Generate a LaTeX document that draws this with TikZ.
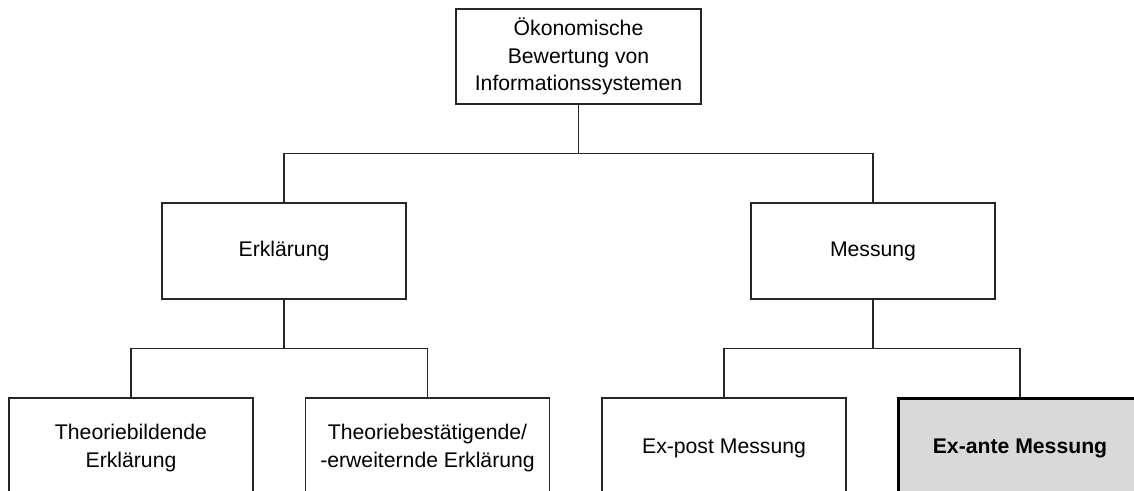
\documentclass[tikz,border=0pt]{standalone}
\usepackage{fontspec}
\setmainfont{Liberation Sans}
\usetikzlibrary{calc}
\begin{document}
\begin{tikzpicture}[x=1pt,y=-1pt,
  box/.style={draw=black!85, line width=1.3pt, fill=white, rectangle, align=center,
    inner sep=0pt, font=\fontsize{21.2}{27.5}\selectfont},
  keybox/.style={box, fill=black!15, draw=black, line width=3pt, font=\fontsize{21.2}{27.5}\selectfont\bfseries},
  link/.style={draw=black!85, line width=1.3pt}]
\useasboundingbox (0,0) rectangle (1134,490);
\clip (0,0) rectangle (1134,490);
% root
\node[box, minimum width=245, minimum height=95] (root) at (578.5,56.5)
  {Ökonomische\\Bewertung von\\Informationssystemen};
% second level
\node[box, minimum width=244, minimum height=96] (erk) at (284,251) {Erklärung};
\node[box, minimum width=244, minimum height=96] (mes) at (873,251) {Messung};
% third level
\node[box, minimum width=244, minimum height=100] (tb) at (131,448) {Theoriebildende\\Erklärung};
\node[box, minimum width=244, minimum height=100] (tbe) at (427.5,448) {Theoriebestätigende/\\-erweiternde Erklärung};
\node[box, minimum width=244, minimum height=100] (post) at (724,448) {Ex-post Messung};
\node[keybox, minimum width=244, minimum height=100] (ante) at (1020,448) {Ex-ante Messung};
% connectors
\coordinate (j0) at ($(root.south)+(0,49)$);
\coordinate (j1) at ($(erk.south)+(0,49)$);
\coordinate (j2) at ($(mes.south)+(0,49)$);
\draw[link] (root.south) -- (j0) -| (erk.north);
\draw[link] (j0) -| (mes.north);
\draw[link] (erk.south) -- (j1) -| (tb.north);
\draw[link] (j1) -| (tbe.north);
\draw[link] (mes.south) -- (j2) -| (post.north);
\draw[link] (j2) -| (ante.north);
\end{tikzpicture}
\end{document}
